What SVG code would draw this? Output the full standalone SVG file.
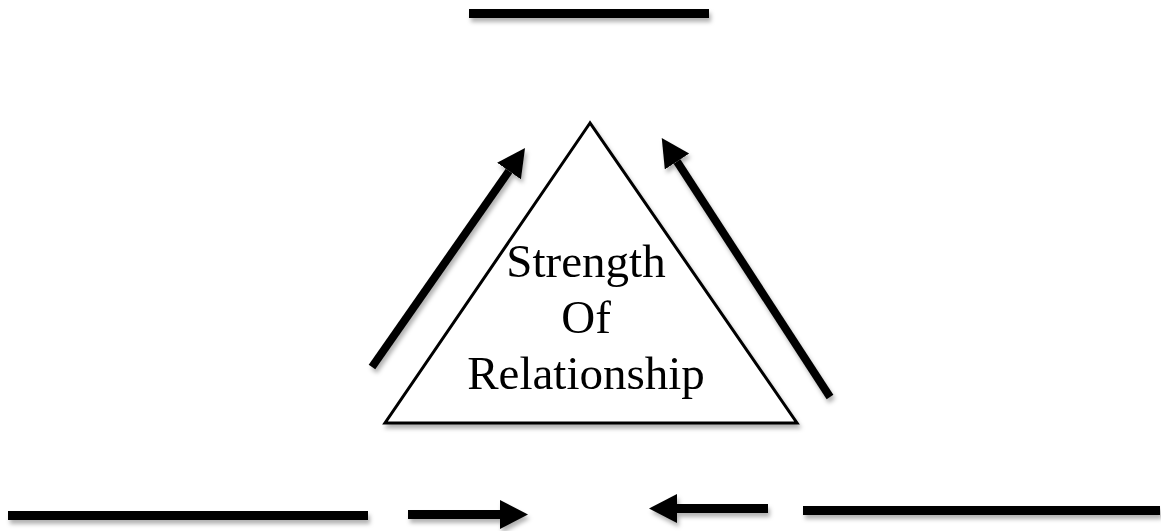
<svg xmlns="http://www.w3.org/2000/svg" width="1161" height="531" viewBox="0 0 1161 531">
  <style>
    .bar { fill: #000; }
    .shaft { stroke: #000; stroke-width: 8; fill: none; stroke-linecap: butt; marker-end: url(#head); }
    .tri { fill: #fff; stroke: #000; stroke-width: 3; stroke-linejoin: miter; }
    .lbl { font-family: "Liberation Serif", "Times New Roman", serif; font-size: 47px; fill: #000; text-anchor: middle; }
  </style>
  <defs>
    <filter id="sh" x="-10%" y="-50%" width="120%" height="250%">
      <feDropShadow dx="2" dy="4" stdDeviation="2" flood-color="#000" flood-opacity="0.3"/>
    </filter>
    <marker id="head" markerUnits="userSpaceOnUse" markerWidth="30" markerHeight="30" refX="0" refY="14.5" orient="auto" viewBox="0 0 30 30">
      <path d="M0,0 L28,14.5 L0,29 Z" fill="#000"/>
    </marker>
  </defs>
  <rect width="1161" height="531" fill="#fff"/>

  <g id="bar-top" filter="url(#sh)"><rect class="bar" x="469" y="9" width="240" height="9"/></g>
  <g id="bar-bottom-left" filter="url(#sh)"><rect class="bar" x="8" y="511" width="360" height="9"/></g>
  <g id="bar-bottom-right" filter="url(#sh)"><rect class="bar" x="803" y="506" width="357" height="9"/></g>

  <g id="triangle" filter="url(#sh)">
    <polygon class="tri" points="590,123 385,423 797,423"/>
    <text class="lbl" x="586" y="277">Strength</text>
    <text class="lbl" x="586" y="333">Of</text>
    <text class="lbl" x="586" y="389">Relationship</text>
  </g>

  <g id="connectors" filter="url(#sh)">
    <line class="shaft" x1="372" y1="367" x2="509" y2="171"/>
    <line class="shaft" x1="830" y1="397" x2="677" y2="161.5"/>
    <line class="shaft" style="stroke-width:9" x1="408" y1="514.5" x2="500" y2="514.5"/>
    <line class="shaft" style="stroke-width:9" x1="768" y1="508.5" x2="677" y2="508.5"/>
  </g>
</svg>
